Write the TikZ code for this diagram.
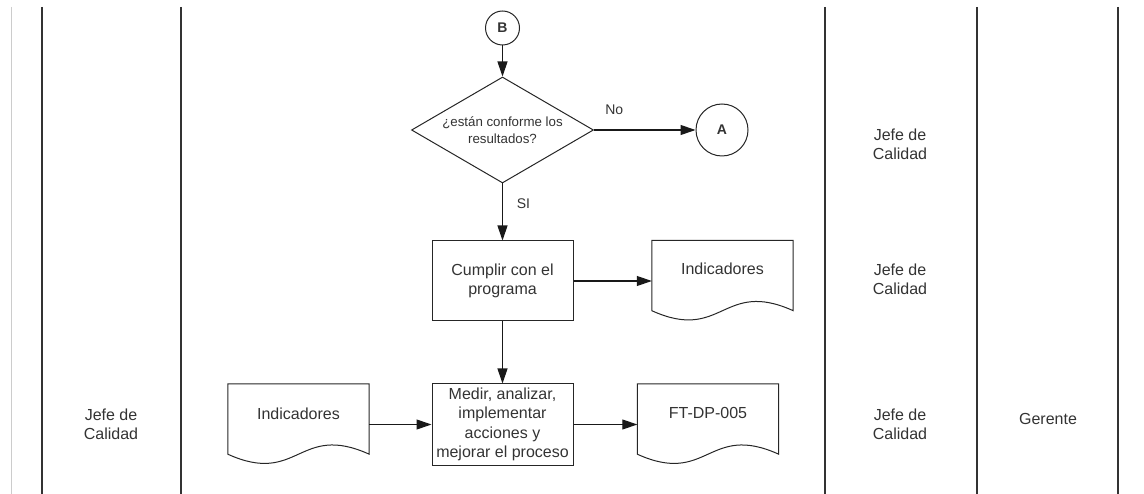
\documentclass[tikz,border=0pt]{standalone}
\usepackage{fontspec}
\setmainfont{Liberation Sans}
\usetikzlibrary{shapes.geometric,arrows.meta,calc}

\tikzset{
  base/.style={font=\fontsize{16}{19.3}\selectfont, text=black!80},
  small/.style={font=\fontsize{14}{17}\selectfont, text=black!80},
  lane/.style={draw=black!80, line width=1.4pt},
  procbox/.style={base, draw=black!85, line width=1pt, rectangle, minimum width=141, minimum height=80, inner sep=1pt, align=center},
  docbox/.style={rectangle, minimum width=141, minimum height=81, inner sep=0pt},
  doctext/.style={base, inner sep=0pt},
  connector/.style={base, draw=black!85, line width=1pt, circle, inner sep=0pt, font=\fontsize{14}{16}\selectfont\bfseries},
  decision/.style={draw=black!85, line width=1pt, diamond, inner sep=0pt, minimum width=182, minimum height=106},
  flow/.style={draw=black!90, line width=1.1pt, -{Triangle[length=15pt,width=10pt]}},
  lanelabel/.style={base, align=center, inner sep=0pt},
}

% wavy-bottom document outline around a docbox node
\newcommand{\docoutline}[1]{%
  \draw[black!85, line width=1pt]
    (#1.north west) -- ([yshift=11pt]#1.south west)
    .. controls ($([yshift=11pt]#1.south west)!0.5!([yshift=11pt]#1.south east)+(0,32)$)
    and ($([yshift=11pt]#1.south west)!0.5!([yshift=11pt]#1.south east)+(0,-32)$)
    .. ([yshift=11pt]#1.south east) -- (#1.north east) -- cycle;}

\begin{document}
\begin{tikzpicture}[x=1pt,y=-1pt]
\useasboundingbox (0,0) rectangle (1144,494);

% swimlane separators
\draw[black!20, line width=1.6pt] (11.5,7) -- (11.5,494);
\draw[lane] (42,7) -- (42,494);
\draw[lane] (181,7) -- (181,494);
\draw[lane] (825,7) -- (825,494);
\draw[lane] (977,7) -- (977,494);
\draw[lane] (1118,7) -- (1118,494);

% lane labels
\node[lanelabel] (jefeL) at (111,424) {Jefe de\\Calidad};
\node[lanelabel] (jefe1) at (900,144) {Jefe de\\Calidad};
\node[lanelabel] (jefe2) at (900,279) {Jefe de\\Calidad};
\node[lanelabel] (jefe3) at (900,424) {Jefe de\\Calidad};
\node[lanelabel] (ger) at (1048,419) {Gerente};

% flow nodes
\node[connector, minimum size=34] (B) at (502.5,28) {B};
\node[decision] (dec) at (502.5,130) {};
\node[small, font=\fontsize{13.3}{17}\selectfont, align=center, inner sep=0pt] (dect) at (502.5,130) {¿están conforme los\\resultados?};
\node[connector, minimum size=52] (A) at (722,130) {A};
\node[procbox] (cump) at (502.5,281) {Cumplir con el\\programa};
\node[procbox, minimum height=81] (med) at (502.5,424.5) {Medir, analizar,\\implementar\\acciones y\\mejorar el proceso};

\node[docbox] (docR) at (722.5,281) {};
\docoutline{docR}
\node[doctext] (docRt) at ($(docR.north)+(0,28)$) {Indicadores};

\node[docbox] (docF) at (708,424.5) {};
\docoutline{docF}
\node[doctext] (docFt) at ($(docF.north)+(0,29)$) {FT-DP-005};

\node[docbox] (docL) at (298.5,424.5) {};
\docoutline{docL}
\node[doctext] (docLt) at ($(docL.north)+(0,30)$) {Indicadores};

% connectors
\draw[flow] (B) -- (dec.north);
\draw[flow] (dec.east) -- node[small, inner sep=0pt, pos=0.2, yshift=20pt] (no) {No} (A.west);
\draw[flow] (dec.south) -- node[small, inner sep=0pt, pos=0.35, xshift=21pt] (si) {SI} (cump.north);
\draw[flow] (cump.east) -- (docR.west);
\draw[flow] (cump.south) -- (med.north);
\draw[flow] (docL.east) -- (med.west);
\draw[flow] (med.east) -- (docF.west);
\end{tikzpicture}
\end{document}
